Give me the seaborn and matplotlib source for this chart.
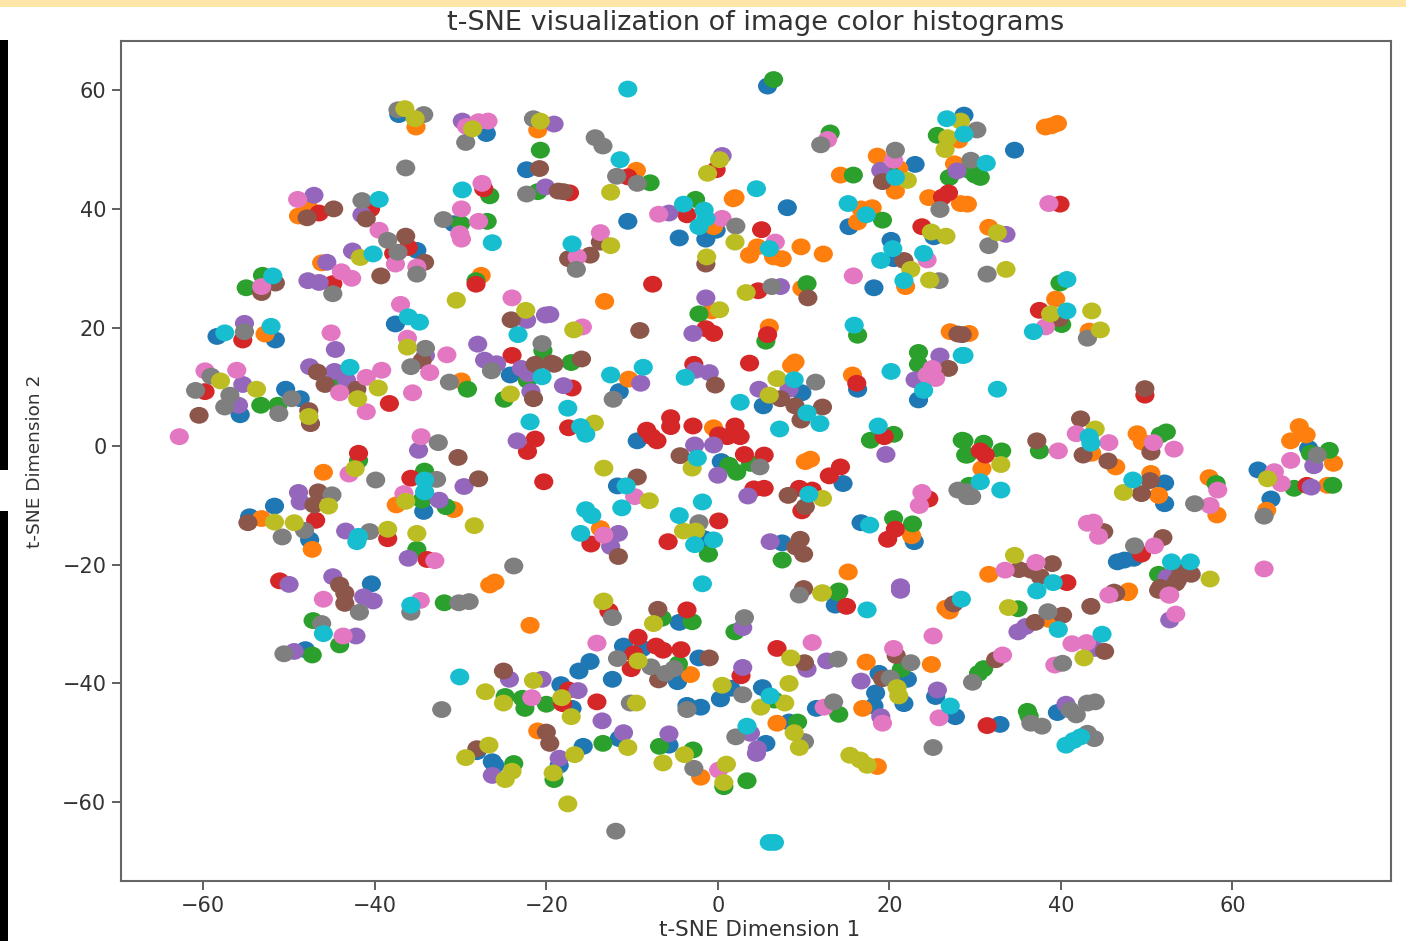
import matplotlib
matplotlib.use("Agg")
import matplotlib.pyplot as plt
from matplotlib.patches import Rectangle
from matplotlib.path import Path
from matplotlib.transforms import Affine2D
import pandas as pd
import seaborn as sns

title_text = "t-SNE visualization of image color histograms"
x_label = "t-SNE Dimension 1"
y_label = "t-SNE Dimension 2"
x_ticks = [-60, -40, -20, 0, 20, 40, 60]
y_ticks = [-60, -40, -20, 0, 20, 40, 60]

cluster_0 = [(-37.2,55.9),(-27,52.7),(-22.3,46.6),(-30.8,37.5),(-35.1,33),(-37.6,20.6),(-58.4,18.5),(-51.6,17.9),(-55.7,5.3),(-50.4,9.6),(-48.7,8),(-24.2,12),(-34.3,-11),(-51.7,-10.1),(-54.6,-11.9),(-47.6,-15.8),(-40.4,-23.2),(-48.1,-34.3),(-18.3,-40.2),(-17,-44.2),(-16.2,-37.9),(-14.9,-36.3),(-12.3,-39.3),(-11,-33.7),(-8.8,-34.1),(-4.7,-39.7),(-2.2,-35.7),(-4.5,-29.7),(1.5,-40.8),(0.3,-42.6),(5.2,-40.7),(-3.6,-43.7),(-2,-44),(11.5,-44.2),(8.3,-46.5),(5.6,-50.1),(-11.5,-49.3),(-15.7,-50.6),(-5.7,-50.4),(-28.1,-51.5),(-26.3,-53.2),(-26,-53.8),(-18.5,-53.8),(13.7,-26.8),(18.8,-38.3),(22.1,-39.3),(18.4,-41.6),(18.2,-43.8),(21.7,-43.4),(25.4,-42.2),(27.7,-45.6),(32.9,-46.9),(39.6,-44.9),(5.8,60.7),(-10.5,37.9),(8.1,40.2),(-0.2,36.4),(-4.5,35.1),(-1.4,34.9),(15.3,37),(23,47.5),(28.7,55.8),(25.2,35.3),(20.2,34.7),(20.5,31.6),(18.2,26.7),(34.6,49.9),(68.9,-0.4),(63,-4),(52.1,-6.2),(52.1,-9.7),(64.5,-8.9),(46.6,-19.5),(47.4,-19.2),(48.5,-18.9),(-11.5,9.2),(5.3,6.8),(9.8,9),(16.3,9.6),(23.4,7.8),(-9.4,0.9),(0.4,-2.6),(14.6,-6.3),(-11.7,-6.7),(-1.6,-15.6),(16.7,-12.9),(22.9,-16.1),(7.5,-16.3)]
cluster_1 = [(-35.2,53.8),(-21,53.3),(-47.8,40.5),(-48.9,38.8),(-46.2,30.9),(-27.6,28.8),(-52.8,18.9),(-29.9,11),(-46,-4.4),(-37.5,-9.9),(-30.8,-10.7),(-53.2,-12.2),(-47.3,-17.4),(-26,-22.9),(-26.6,-23.4),(-21.9,-30.2),(-21,-48),(-3.2,-38.5),(17.3,-36.4),(16.9,-44.2),(6.9,-46.7),(-2,-55.8),(18.6,-54),(27,-27.8),(38.6,-29.2),(47.8,-24.7),(24.9,-36.8),(-9.5,46.5),(1.8,41.7),(2,41.9),(-0.5,37),(16.7,40),(18,40.2),(16.3,37.8),(14.3,45.7),(18.6,48.9),(21.1,46.8),(20.7,43),(28.1,51.6),(27.6,47.6),(24.6,41.9),(28.3,40.9),(29.1,40.8),(3.7,32.2),(4.6,33.6),(6.5,31.9),(7.5,31.6),(9.7,33.6),(12.3,32.4),(-13.2,24.4),(-0.7,22.8),(9.8,26.6),(21.9,26.9),(31.6,36.9),(39.4,24.8),(43.3,19.4),(29.3,19),(27.1,19.3),(43.6,-1.2),(46.4,-3.5),(48.9,2.1),(49.5,0.7),(67.8,3.3),(68.6,1.9),(66.8,0.9),(71.8,-2.9),(30.8,-3.8),(57.3,-5.3),(50.5,-4.6),(71.1,-6.6),(51.4,-8.3),(58.2,-11.6),(64,-10.8),(31.6,-21.6),(47.9,-24.4),(6,20.1),(-10.4,11.3),(9,14.2),(8.6,13.6),(15.7,12),(-0.5,3.1),(10.2,-2.6),(10.8,-2.2),(-13.7,-13.9),(22.6,-15.1),(15.2,-21.2),(26.6,-27.3),(38.2,53.8),(39.6,54.4),(38.9,54)]
cluster_2 = [(-20.7,49.9),(-21,42.9),(-26.6,42.2),(-30,37.5),(-26.9,37.9),(-55,26.7),(-53.1,28.8),(-28.2,27.9),(-44.3,11.1),(-53.3,6.9),(-51.3,6.9),(-29.2,9.6),(-20.4,16.1),(-22.2,11.1),(-24.9,7.9),(-41.9,-2.4),(-34.2,-4.2),(-34.5,-9.1),(-31.7,-10.2),(-35.1,-17.4),(-31.9,-26.4),(-47.2,-29.4),(-44.1,-33.5),(-47.3,-35.2),(-24.8,-42.2),(-22.5,-44.2),(-22.8,-42.5),(-20,-43.5),(-4.6,-36.7),(-6.5,-29),(-3,-29.6),(2,-31.3),(6.6,-42.8),(14.1,-45.2),(9.3,-46.5),(-13.4,-50.1),(-6.8,-50.6),(-2.9,-51.2),(0.7,-57.4),(3.4,-56.4),(-23.8,-53.5),(-19.1,-56.2),(14,-24.7),(35,-27.4),(21.4,-37.6),(36.1,-44.7),(36.3,-45.5),(31,-37.5),(30.4,-38.3),(6.5,61.8),(-7.9,44.4),(13.1,52.8),(-2.6,41.6),(19.2,38.1),(15.8,45.7),(20,46.2),(25.6,52.4),(27,45.3),(29.3,46.5),(30,45.7),(30.6,45.3),(10.4,27.4),(-2.2,22.3),(-17.1,14.1),(16.3,18.7),(5.6,17.7),(23.4,15.8),(23.4,13.8),(17.8,1),(20.5,2),(28.5,1),(28.9,-1.5),(28.7,0.9),(31,0.5),(33.1,-0.8),(29.1,-1.5),(37.5,-0.8),(52.3,2.4),(51.6,1.9),(71.3,-0.7),(69.1,-1.2),(67.2,-7.1),(71.7,-6.6),(58.1,-6.3),(39.9,27.5),(40.1,20.5),(51.4,-21.6),(3.8,-2.9),(1.3,-3.2),(2.2,-4.4),(29.3,-6.6),(20.5,-12.2),(22.7,-13.1),(7.5,-19.2),(14.1,-24.4),(-1.1,-18.2)]
cluster_3 = [(-27.3,43.4),(-36.1,33.5),(-37.8,32.5),(-46.5,39.3),(-40.5,40),(-44.9,27.4),(-28.2,27.3),(-10.5,45.4),(-17.3,42.7),(-55.4,17.9),(-59.8,9.2),(-38.3,7.2),(-24,15.3),(-21.3,1.2),(-22.2,-0.9),(-41.9,-1.2),(-35.8,-5.4),(-20.3,-6),(-46.9,-12.5),(-38.5,-15.6),(-33.9,-19.1),(-51.1,-22.7),(-17.4,-41.1),(-18.1,-43.4),(-14.1,-43.1),(-9.3,-32.2),(-7.2,-33.7),(-6.4,-34.4),(-4.3,-34.3),(-9.8,-35),(-10.1,-37.5),(-12.7,-27.8),(-3.6,-27.6),(6.9,-34.1),(2.7,-38.7),(15,-27),(31.4,-47.1),(-0.2,46.6),(-3.6,39),(5.1,36.5),(-7.6,27.3),(4.7,26.2),(26.9,42.7),(26.2,42),(23.8,37),(39.9,40.8),(37.5,22.9),(49.8,8.6),(30.6,-0.8),(31.2,-1.5),(68.7,-6.6),(49.4,-18.2),(40.7,-23),(-1.4,19.8),(-0.5,19),(5.8,18.8),(-17,9.8),(-17.4,3.1),(-2.8,13.8),(3.7,14),(16.2,10.6),(19.4,1.6),(-5.5,4.8),(-5.5,3.3),(-8.3,2.7),(-7.7,1.6),(-7.1,0.9),(-2.9,3.4),(0.1,1.9),(2,3.4),(1.1,1.6),(2.6,1.6),(3.1,-1.4),(5.4,-1.5),(14.3,-3.5),(13,-5),(4.2,-7.2),(5.4,-7.1),(9.5,-7.1),(11,-7.4),(9.8,-10.9),(24.6,-8.9),(0.1,-12.6),(-5.8,-16.1),(-14.8,-16.5),(20.7,-14),(19.8,-15.7)]
cluster_4 = [(-29.8,54.8),(-19.1,54.3),(-20.1,43.7),(-47.1,42.3),(-41.5,39),(-42.6,32.9),(-45.6,31),(-47.8,27.9),(-46.5,27.6),(-22.3,21.2),(-20.1,22.1),(-19.6,22.2),(-55.2,20.7),(-44.6,16.3),(-55.4,10.4),(-55.9,6.9),(-47.6,13.4),(-44.7,12.6),(-43.3,11.1),(-34.1,15.3),(-28,17.2),(-27.2,14.5),(-25.8,13.9),(-22.9,13.1),(-22.1,12.2),(-21.8,9.2),(-23.4,0.9),(-34.9,-0.7),(-29.6,-6.8),(-32.5,-9.1),(-48.9,-7.8),(-48.7,-9.4),(-43.4,-14.3),(-36.1,-18.9),(-50,-23.3),(-44.9,-22),(-41.3,-25.4),(-40.2,-26.1),(-42.2,-32),(-49.4,-34.6),(-24.3,-39.3),(-20.5,-39.3),(-16.3,-41.2),(-13.5,-46.3),(2.9,-30.6),(10.4,-37.6),(12.7,-36.2),(16.7,-39.6),(2.9,-37.3),(3.8,-48.4),(4.6,-51),(4.5,-51.8),(-11,-48.3),(-5.7,-48.5),(-26.3,-55.5),(-18.5,-52.6),(21.3,-24.3),(35.9,-30.4),(35,-31.3),(43.9,-34.1),(52.7,-29.3),(19,-45.6),(25.6,-41.1),(40.6,-43.5),(0.5,49),(-5.7,39.3),(7.3,26.9),(-1.4,25),(19,46.5),(27.9,46.4),(33.6,35.7),(69.5,-3.3),(69.2,-6.9),(52.4,-22.1),(-2.9,19),(-18,10.2),(-2.6,12.8),(-1,12.4),(-9,10.6),(4.8,9.6),(8.3,9.6),(25.9,15.2),(23,11.2),(19.6,-1.4),(-2.7,0.2),(-0.5,0.2),(0,-4.9),(3.5,-8.4),(-11.6,-14.7),(-12.5,-16.9),(6.1,-16.1),(21.3,-23.7)]
cluster_5 = [(-20.8,46.8),(-47.9,38.5),(-44.8,40),(-41,38.3),(-36.4,35.4),(-34.2,31),(-39.3,28.7),(-53.2,25.9),(-51.6,27.5),(-24.1,21.3),(-18.6,43),(-18,42.9),(-60.5,5.2),(-47.7,6),(-47.5,3.8),(-46.7,12.5),(-45.8,10.4),(-42.1,9.6),(-34.5,14.4),(-21.3,13.8),(-19.4,14),(-21.5,8),(-30.3,-1.9),(-27.9,-5.5),(-46.6,-7.7),(-47.1,-9.9),(-54.8,-12.9),(-44.1,-23.4),(-43.5,-24.8),(-43.5,-26.5),(-25,-37.9),(-20,-48.2),(-19.6,-50.1),(-6.9,-39.4),(-1,-35.7),(-7,-27.5),(10.1,-36.5),(-28.1,-51),(27.5,-26.6),(40.2,-28.5),(37,-29.7),(43.5,-27),(45.1,-34.6),(46.4,-24.8),(51.4,-24.3),(20.8,-35.3),(19.2,-39.2),(32.4,-36),(-13.7,34.4),(-14.9,32.2),(-17.4,31.6),(-1.4,30.7),(10.5,25),(19.2,44.6),(21.7,31.3),(39.8,21.5),(28.5,18.8),(49.8,9.7),(42.3,4.6),(42.6,-1.5),(45.5,-2.5),(50.5,-1),(37.2,0.9),(50.4,-5.8),(49.4,-8),(45,-14.4),(51.9,-15.4),(54,-21.2),(55.2,-21.6),(53.6,-22.6),(51.6,-23.8),(53.4,-23.1),(46.2,-24.6),(35.1,-20.8),(36.5,-20.9),(39,-19.8),(37.6,-22),(-9.1,19.5),(-19.1,13.8),(-15.9,14.7),(-0.3,10.3),(7.3,8),(9,6.8),(12.2,6.6),(9.7,4.4),(26.9,13.1),(-4.4,-1.6),(-9.4,-5.2),(8.2,-8.3),(10.2,-10.2),(-11.6,-18.6),(9.6,-15.7),(9.1,-17),(10,-18.2),(10,-24),(28,18.9)]
cluster_6 = [(-29.3,53.9),(-26.8,54.8),(-27.9,54.7),(-27.5,44.3),(-29.9,40),(-27.9,37.9),(-30.1,35.8),(-29.9,34.9),(-49,41.6),(-39.5,36.4),(-37.6,30.7),(-35.1,30.2),(-43.9,29.4),(-42.7,28.3),(-53.2,26.9),(-24,25),(-37,23.9),(-45.1,19.1),(-59.8,12.7),(-56.1,12.8),(-62.8,1.6),(-41,11.6),(-39.2,12.8),(-44.1,9),(-41,5.8),(-35.6,9),(-36.2,18.2),(-33.6,12.4),(-31.6,15.4),(-34.6,1.6),(-43,-4.7),(-36.6,-8),(-33,-19.3),(-46,-25.8),(-34.7,-26),(-43.7,-32),(-21.7,-42.4),(-14.1,-33.2),(11,-33.1),(12.4,-44),(0.1,-54.6),(41.3,-33.3),(43,-33.1),(39.3,-36.9),(45.6,-25.1),(52.6,-25.1),(53.4,-28.3),(20.5,-34.1),(25.1,-32),(19.2,-46.7),(25.8,-45.8),(33.2,-35.2),(-6.9,39.1),(0.5,38.4),(-13.7,36),(-16.4,31.9),(6.7,34.4),(12.8,51.7),(20.5,48.2),(24.4,31.4),(15.8,28.7),(38.6,40.9),(38.2,20.1),(41.8,2.1),(45.6,0.6),(50.8,0.6),(53.2,-0.5),(39.7,-0.8),(66.8,-2.4),(64.9,-4.3),(65.7,-6.3),(58.3,-7.4),(57.4,-10),(43.1,-13),(43.8,-12.8),(44.4,-15.2),(50.9,-16.8),(52.7,-25.1),(63.7,-20.7),(33.5,-20.9),(37.1,-19.6),(-15.8,20.1),(-9.7,-8.5),(-13.3,-15),(25,13.1),(24.4,12),(25.4,11.4),(23.8,-7.8),(23.5,-10)]
cluster_7 = [(-37.3,56.7),(-34.3,55.9),(-29.4,51.2),(-21.5,55.2),(-22.3,42.5),(-36.4,46.9),(-32,38.2),(-41.5,41.4),(-38.5,34.7),(-37.3,32.7),(-35.1,29),(-44.9,25.7),(-14.3,52),(-13.4,50.6),(-11.8,45.5),(-9.4,44.3),(12,50.8),(2.1,37.1),(-16.5,29.8),(6.3,26.9),(20.7,49.9),(25.9,39.9),(25.8,27.9),(30.2,53.3),(29.5,48.2),(31.6,33.8),(31.4,29),(43.1,18.2),(-55.2,19.3),(-59.1,11.8),(-60.9,9.4),(-56.9,8.6),(-57.5,6.6),(-49.7,8),(-51.2,5.5),(-34.1,16.5),(-35.8,13.4),(-31.3,10.8),(-26.4,12.7),(-20.5,17.3),(-32.6,0.6),(-39.9,-5.7),(-32.8,-5.6),(-45,-8.2),(-48.2,-14.2),(-50.8,-15.3),(-40.6,-14.4),(-23.8,-20.2),(-41.8,-28),(-35.8,-28),(-30.2,-26.4),(-29,-26.2),(-46.2,-29.9),(-50.6,-35),(-32.2,-44.4),(-11.7,-35.8),(-7.8,-37.2),(-5.1,-37.5),(-6.1,-38.3),(-12.3,-28.9),(3.1,-28.9),(9.5,-25.1),(14,-35.9),(13.5,-43.1),(2.9,-41.9),(-3.6,-44.4),(-10.2,-43.3),(2.1,-49),(10.1,-49.8),(-2.8,-54.3),(-11.9,-64.9),(38.5,-27.9),(40.2,-36.6),(22.5,-36.5),(20.1,-39.1),(25.1,-50.8),(36.5,-46.7),(37.8,-47.2),(41.1,-44.5),(41.8,-45.3),(43.1,-43.3),(44,-43.1),(43.1,-48.4),(43.9,-49.3),(29.7,-39.8),(29.1,-7.7),(29.6,-8.5),(69.9,-1.5),(55.6,-9.7),(63.7,-11.8),(48.6,-16.8),(11.4,10.8),(-12.2,7.9),(4.9,-3.5),(28,-7.4),(29.1,-8.5),(-2.2,-12.9)]
cluster_8 = [(-36.5,56.9),(-35.3,55.2),(-28.6,53.5),(-20.7,54.8),(-41.7,31.8),(-30.5,24.6),(-22.4,22.9),(-58,11),(-53.8,9.6),(-47.7,5),(-39.6,9.8),(-42,8),(-36.2,16.7),(-24.2,8.8),(-42.3,-3.8),(-36.4,-9.3),(-45.4,-10.1),(-51.7,-12.8),(-49.4,-12.9),(-38.5,-14),(-35.1,-14.7),(-28.4,-13.4),(-27.1,-41.4),(-21.5,-39.5),(-25,-43.3),(-18.2,-42.4),(-17.1,-45.6),(-13.4,-26.2),(-7.5,-29.9),(-9.3,-36.2),(0.5,-40.3),(8.3,-40),(5,-44),(7.8,-43.3),(8.5,-35.7),(-9.5,-43.3),(8.9,-48.3),(9.5,-50.8),(-10.5,-50.8),(-3.9,-52),(-6.4,-53.4),(1,-53.6),(0.7,-56.7),(-26.7,-50.4),(-29.4,-52.5),(-24,-54.8),(-24.8,-56.2),(-16.7,-52),(-19.2,-55.1),(-17.5,-60.3),(15.4,-52.1),(16.6,-52.9),(17.4,-53.8),(12.1,-24.8),(12.2,-24.7),(33.9,-27.2),(42.7,-35.7),(20.9,-40.7),(21.1,-42.1),(-12.5,42.8),(0.2,48.3),(-1.2,46),(2,34.4),(-12.5,33.8),(-1.3,31.9),(3.3,25.9),(0.2,23),(22.1,44.8),(28.3,54.8),(26.8,52),(26.5,50),(24.9,36.1),(26.6,35.4),(22.5,29.8),(24.7,28),(32.6,36),(33.6,29.8),(38.8,22.3),(43.6,22.8),(44.6,19.6),(44,2.9),(33,-3.1),(64.1,-5.5),(47.3,-7.8),(57.4,-22.4),(34.6,-18.4),(-16.8,19.6),(-14.4,3.9),(6.9,11.4),(6,8.6),(-13.3,-3.7),(-3,-3.7),(-8,-9.2),(12.2,-8.8),(-4,-14.3),(-2.6,-14.3),(-13.3,-26.1)]
cluster_9 = [(-29.8,43.2),(-26.3,34.3),(-39.5,41.6),(-40.2,32.4),(-51.9,28.7),(-36.1,21.8),(-34.8,20.9),(-57.5,19.1),(-52.1,20.2),(-42.9,13.3),(-23.3,18.8),(-20.5,11.7),(-21.9,4.1),(-34.2,-5.7),(-34.2,-7.7),(-41.9,-15.2),(-42.1,-16.1),(-35.8,-26.8),(-46,-31.6),(-30.1,-38.9),(6.1,-42.1),(3.4,-47.2),(6,-66.8),(6.6,-66.8),(17.4,-27.6),(28.4,-25.8),(39.7,-30.9),(44.8,-31.7),(27.1,-43.8),(40.6,-50.4),(41.5,-49.6),(42.3,-49),(-10.5,60.2),(-11.4,48.3),(4.5,43.4),(-4,40.8),(-1.6,39.8),(-1.4,38.4),(-2.2,37),(-17,34.1),(6,33.3),(15.2,40.9),(17.3,39),(20.7,45.3),(26.7,55.2),(28.7,52.6),(31.3,47.7),(20.4,33.3),(19,31.3),(24,32.5),(21.7,27.9),(40.7,28.1),(40.7,22.8),(36.8,19.3),(28.7,15.3),(32.6,9.6),(43.3,1.6),(43.5,0.5),(48.4,-5.7),(30.6,-6),(33,-7.4),(52.9,-19.5),(55.1,-19.5),(39.1,-23),(37.2,-24.4),(15.9,20.4),(-17.5,6.4),(-16,3.3),(-15.4,2),(-12.5,12),(-8.7,13.3),(-3.8,11.6),(8.9,11.2),(2.6,7.4),(10.4,5.6),(11.9,3.8),(7.2,2.9),(20.2,12.6),(28.5,15.3),(24,9.4),(18.7,3.4),(-2.4,-2),(-10.7,-6.7),(-11.2,-10.4),(10.6,-8.1),(-1.8,-9.4),(-4.5,-11.7),(-0.5,-15.8),(-2.7,-16.6),(-15.4,-10.7),(-14.7,-11.7),(-16,-14.7),(17.7,-13.3),(-1.8,-23.2)]

clusters = [cluster_0, cluster_1, cluster_2, cluster_3, cluster_4,
            cluster_5, cluster_6, cluster_7, cluster_8, cluster_9]
rows = [(x, y, i) for i, pts in enumerate(clusters) for x, y in pts]
df = pd.DataFrame(rows, columns=["x", "y", "cluster"])

W, H = 1406, 941
fig = plt.figure(figsize=(W / 100, H / 100), dpi=100, facecolor="white")
ax = fig.add_axes([121 / W, 1 - 881 / H, (1391 - 121) / W, (881 - 41) / H])

oval = Affine2D().scale(1.0, 0.88).transform_path(Path.unit_circle())
sns.scatterplot(data=df, x="x", y="y", hue="cluster", palette="tab10",
                hue_order=list(range(10)), marker=oval, s=190, linewidth=0,
                legend=False, ax=ax)

ax.set_xlim(-69.6, 78.5)
ax.set_ylim(-73.3, 68.3)
ax.set_xticks(x_ticks)
ax.set_yticks(y_ticks)
text_c = "#333333"
ax.tick_params(labelsize=15, labelcolor=text_c, color="#444444", width=1.2, length=6.5, pad=4)
ax.set_xlabel(x_label, fontsize=15.5, color=text_c)
ax.set_ylabel(y_label, fontsize=13.3, color=text_c)
ax.xaxis.set_label_coords(0.5025, -0.058, transform=ax.transAxes)
ax.yaxis.set_label_coords(-0.068, 0.5, transform=ax.transAxes)
ax.xaxis.label.set_va("center")
ax.yaxis.label.set_va("center")
ax.set_title(title_text, fontsize=19.5, color=text_c, pad=8)
for name, sp in ax.spines.items():
    sp.set_linewidth(1.5)
    sp.set_color("#666666")

fig.add_artist(Rectangle((0, 1 - 7 / H), 1, 7 / H, transform=fig.transFigure,
                         facecolor="#FDE6A8", edgecolor="none"))
fig.add_artist(Rectangle((0, 1 - 470 / H), 8 / W, 430 / H, transform=fig.transFigure,
                         facecolor="black", edgecolor="none"))
fig.add_artist(Rectangle((0, 0), 8 / W, (941 - 511) / H, transform=fig.transFigure,
                         facecolor="black", edgecolor="none"))

fig.savefig("out.png", dpi=100)
